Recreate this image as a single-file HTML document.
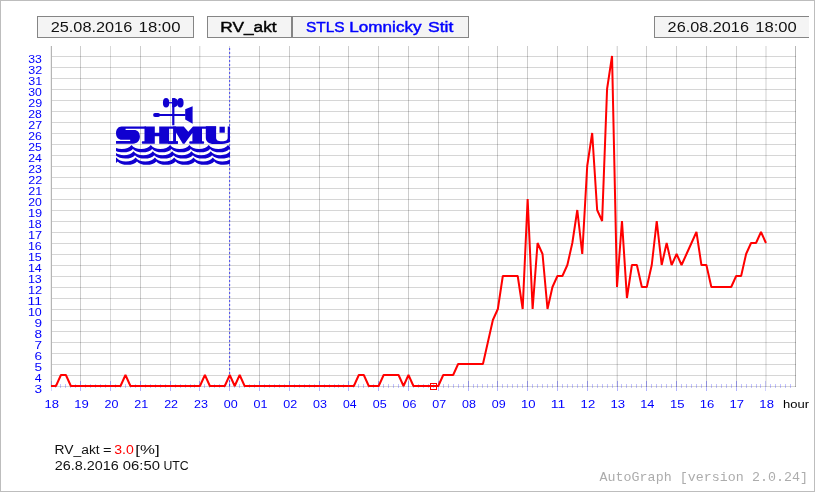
<!DOCTYPE html>
<html><head><meta charset="utf-8"><title>AutoGraph</title>
<style>html,body{margin:0;padding:0;background:#fff;}svg{display:block;will-change:transform;}</style></head>
<body>
<svg width="815" height="492" viewBox="0 0 815 492">
<defs><filter id="nolcd" filterUnits="userSpaceOnUse" x="0" y="0" width="815" height="492"><feOffset dx="0" dy="0"/></filter></defs>
<rect x="0" y="0" width="815" height="492" fill="#fff"/>
<g shape-rendering="crispEdges">
<rect x="0.5" y="0.5" width="814" height="491" fill="none" stroke="#bdbdbd" stroke-width="1"/>
<rect x="52" y="386" width="744" height="1" fill="#000" fill-opacity="0.16"/>
<rect x="52" y="375" width="744" height="1" fill="#000" fill-opacity="0.16"/>
<rect x="52" y="364" width="744" height="1" fill="#000" fill-opacity="0.16"/>
<rect x="52" y="353" width="744" height="1" fill="#000" fill-opacity="0.16"/>
<rect x="52" y="342" width="744" height="1" fill="#000" fill-opacity="0.16"/>
<rect x="52" y="331" width="744" height="1" fill="#000" fill-opacity="0.16"/>
<rect x="52" y="320" width="744" height="1" fill="#000" fill-opacity="0.16"/>
<rect x="52" y="309" width="744" height="1" fill="#000" fill-opacity="0.16"/>
<rect x="52" y="298" width="744" height="1" fill="#000" fill-opacity="0.16"/>
<rect x="52" y="287" width="744" height="1" fill="#000" fill-opacity="0.16"/>
<rect x="52" y="276" width="744" height="1" fill="#000" fill-opacity="0.16"/>
<rect x="52" y="265" width="744" height="1" fill="#000" fill-opacity="0.16"/>
<rect x="52" y="254" width="744" height="1" fill="#000" fill-opacity="0.16"/>
<rect x="52" y="243" width="744" height="1" fill="#000" fill-opacity="0.16"/>
<rect x="52" y="232" width="744" height="1" fill="#000" fill-opacity="0.16"/>
<rect x="52" y="221" width="744" height="1" fill="#000" fill-opacity="0.16"/>
<rect x="52" y="210" width="744" height="1" fill="#000" fill-opacity="0.16"/>
<rect x="52" y="199" width="744" height="1" fill="#000" fill-opacity="0.16"/>
<rect x="52" y="188" width="744" height="1" fill="#000" fill-opacity="0.16"/>
<rect x="52" y="177" width="744" height="1" fill="#000" fill-opacity="0.16"/>
<rect x="52" y="166" width="744" height="1" fill="#000" fill-opacity="0.16"/>
<rect x="52" y="155" width="744" height="1" fill="#000" fill-opacity="0.16"/>
<rect x="52" y="144" width="744" height="1" fill="#000" fill-opacity="0.16"/>
<rect x="52" y="133" width="744" height="1" fill="#000" fill-opacity="0.16"/>
<rect x="52" y="122" width="744" height="1" fill="#000" fill-opacity="0.16"/>
<rect x="52" y="111" width="744" height="1" fill="#000" fill-opacity="0.16"/>
<rect x="52" y="100" width="744" height="1" fill="#000" fill-opacity="0.16"/>
<rect x="52" y="89" width="744" height="1" fill="#000" fill-opacity="0.16"/>
<rect x="52" y="78" width="744" height="1" fill="#000" fill-opacity="0.16"/>
<rect x="52" y="67" width="744" height="1" fill="#000" fill-opacity="0.16"/>
<rect x="52" y="56" width="744" height="1" fill="#000" fill-opacity="0.16"/>
<rect x="80" y="46" width="1" height="341" fill="#000" fill-opacity="0.195"/>
<rect x="110" y="46" width="1" height="341" fill="#000" fill-opacity="0.15"/>
<rect x="140" y="46" width="1" height="341" fill="#000" fill-opacity="0.195"/>
<rect x="170" y="46" width="1" height="341" fill="#000" fill-opacity="0.16"/>
<rect x="199" y="46" width="1" height="341" fill="#000" fill-opacity="0.13"/>
<rect x="200" y="46" width="1" height="341" fill="#000" fill-opacity="0.05"/>
<rect x="229" y="46" width="1" height="341" fill="#000" fill-opacity="0.17"/>
<rect x="259" y="46" width="1" height="341" fill="#000" fill-opacity="0.195"/>
<rect x="289" y="46" width="1" height="341" fill="#000" fill-opacity="0.195"/>
<rect x="319" y="46" width="1" height="341" fill="#000" fill-opacity="0.195"/>
<rect x="348" y="46" width="1" height="341" fill="#000" fill-opacity="0.195"/>
<rect x="378" y="46" width="1" height="341" fill="#000" fill-opacity="0.195"/>
<rect x="408" y="46" width="1" height="341" fill="#000" fill-opacity="0.195"/>
<rect x="438" y="46" width="1" height="341" fill="#000" fill-opacity="0.195"/>
<rect x="468" y="46" width="1" height="341" fill="#000" fill-opacity="0.195"/>
<rect x="497" y="46" width="1" height="341" fill="#000" fill-opacity="0.195"/>
<rect x="527" y="46" width="1" height="341" fill="#000" fill-opacity="0.195"/>
<rect x="557" y="46" width="1" height="341" fill="#000" fill-opacity="0.195"/>
<rect x="587" y="46" width="1" height="341" fill="#000" fill-opacity="0.195"/>
<rect x="616" y="46" width="1" height="341" fill="#000" fill-opacity="0.06"/>
<rect x="617" y="46" width="1" height="341" fill="#000" fill-opacity="0.15"/>
<rect x="646" y="46" width="1" height="341" fill="#000" fill-opacity="0.195"/>
<rect x="676" y="46" width="1" height="341" fill="#000" fill-opacity="0.195"/>
<rect x="706" y="46" width="1" height="341" fill="#000" fill-opacity="0.195"/>
<rect x="736" y="46" width="1" height="341" fill="#000" fill-opacity="0.195"/>
<rect x="765" y="46" width="2" height="341" fill="#000" fill-opacity="0.09"/>
<rect x="795" y="46" width="1" height="341" fill="#000" fill-opacity="0.28"/>
<rect x="51" y="46" width="1" height="341" fill="#000" fill-opacity="0.29"/>
<rect x="50" y="46" width="1" height="341" fill="#000" fill-opacity="0.06"/>
<rect x="229" y="48" width="1" height="2" fill="#5c5ce8"/>
<rect x="230" y="48" width="1" height="2" fill="#00f" fill-opacity="0.1"/>
<rect x="229" y="52" width="1" height="2" fill="#5c5ce8"/>
<rect x="230" y="52" width="1" height="2" fill="#00f" fill-opacity="0.1"/>
<rect x="229" y="56" width="1" height="2" fill="#5c5ce8"/>
<rect x="230" y="56" width="1" height="2" fill="#00f" fill-opacity="0.1"/>
<rect x="229" y="60" width="1" height="2" fill="#5c5ce8"/>
<rect x="230" y="60" width="1" height="2" fill="#00f" fill-opacity="0.1"/>
<rect x="229" y="64" width="1" height="2" fill="#5c5ce8"/>
<rect x="230" y="64" width="1" height="2" fill="#00f" fill-opacity="0.1"/>
<rect x="229" y="68" width="1" height="2" fill="#5c5ce8"/>
<rect x="230" y="68" width="1" height="2" fill="#00f" fill-opacity="0.1"/>
<rect x="229" y="72" width="1" height="2" fill="#5c5ce8"/>
<rect x="230" y="72" width="1" height="2" fill="#00f" fill-opacity="0.1"/>
<rect x="229" y="76" width="1" height="2" fill="#5c5ce8"/>
<rect x="230" y="76" width="1" height="2" fill="#00f" fill-opacity="0.1"/>
<rect x="229" y="80" width="1" height="2" fill="#5c5ce8"/>
<rect x="230" y="80" width="1" height="2" fill="#00f" fill-opacity="0.1"/>
<rect x="229" y="84" width="1" height="2" fill="#5c5ce8"/>
<rect x="230" y="84" width="1" height="2" fill="#00f" fill-opacity="0.1"/>
<rect x="229" y="88" width="1" height="2" fill="#5c5ce8"/>
<rect x="230" y="88" width="1" height="2" fill="#00f" fill-opacity="0.1"/>
<rect x="229" y="92" width="1" height="2" fill="#5c5ce8"/>
<rect x="230" y="92" width="1" height="2" fill="#00f" fill-opacity="0.1"/>
<rect x="229" y="96" width="1" height="2" fill="#5c5ce8"/>
<rect x="230" y="96" width="1" height="2" fill="#00f" fill-opacity="0.1"/>
<rect x="229" y="100" width="1" height="2" fill="#5c5ce8"/>
<rect x="230" y="100" width="1" height="2" fill="#00f" fill-opacity="0.1"/>
<rect x="229" y="104" width="1" height="2" fill="#5c5ce8"/>
<rect x="230" y="104" width="1" height="2" fill="#00f" fill-opacity="0.1"/>
<rect x="229" y="108" width="1" height="2" fill="#5c5ce8"/>
<rect x="230" y="108" width="1" height="2" fill="#00f" fill-opacity="0.1"/>
<rect x="229" y="112" width="1" height="2" fill="#5c5ce8"/>
<rect x="230" y="112" width="1" height="2" fill="#00f" fill-opacity="0.1"/>
<rect x="229" y="116" width="1" height="2" fill="#5c5ce8"/>
<rect x="230" y="116" width="1" height="2" fill="#00f" fill-opacity="0.1"/>
<rect x="229" y="120" width="1" height="2" fill="#5c5ce8"/>
<rect x="230" y="120" width="1" height="2" fill="#00f" fill-opacity="0.1"/>
<rect x="229" y="124" width="1" height="2" fill="#5c5ce8"/>
<rect x="230" y="124" width="1" height="2" fill="#00f" fill-opacity="0.1"/>
<rect x="229" y="128" width="1" height="2" fill="#5c5ce8"/>
<rect x="230" y="128" width="1" height="2" fill="#00f" fill-opacity="0.1"/>
<rect x="229" y="132" width="1" height="2" fill="#5c5ce8"/>
<rect x="230" y="132" width="1" height="2" fill="#00f" fill-opacity="0.1"/>
<rect x="229" y="136" width="1" height="2" fill="#5c5ce8"/>
<rect x="230" y="136" width="1" height="2" fill="#00f" fill-opacity="0.1"/>
<rect x="229" y="140" width="1" height="2" fill="#5c5ce8"/>
<rect x="230" y="140" width="1" height="2" fill="#00f" fill-opacity="0.1"/>
<rect x="229" y="144" width="1" height="2" fill="#5c5ce8"/>
<rect x="230" y="144" width="1" height="2" fill="#00f" fill-opacity="0.1"/>
<rect x="229" y="148" width="1" height="2" fill="#5c5ce8"/>
<rect x="230" y="148" width="1" height="2" fill="#00f" fill-opacity="0.1"/>
<rect x="229" y="152" width="1" height="2" fill="#5c5ce8"/>
<rect x="230" y="152" width="1" height="2" fill="#00f" fill-opacity="0.1"/>
<rect x="229" y="156" width="1" height="2" fill="#5c5ce8"/>
<rect x="230" y="156" width="1" height="2" fill="#00f" fill-opacity="0.1"/>
<rect x="229" y="160" width="1" height="2" fill="#5c5ce8"/>
<rect x="230" y="160" width="1" height="2" fill="#00f" fill-opacity="0.1"/>
<rect x="229" y="164" width="1" height="2" fill="#5c5ce8"/>
<rect x="230" y="164" width="1" height="2" fill="#00f" fill-opacity="0.1"/>
<rect x="229" y="168" width="1" height="2" fill="#5c5ce8"/>
<rect x="230" y="168" width="1" height="2" fill="#00f" fill-opacity="0.1"/>
<rect x="229" y="172" width="1" height="2" fill="#5c5ce8"/>
<rect x="230" y="172" width="1" height="2" fill="#00f" fill-opacity="0.1"/>
<rect x="229" y="176" width="1" height="2" fill="#5c5ce8"/>
<rect x="230" y="176" width="1" height="2" fill="#00f" fill-opacity="0.1"/>
<rect x="229" y="180" width="1" height="2" fill="#5c5ce8"/>
<rect x="230" y="180" width="1" height="2" fill="#00f" fill-opacity="0.1"/>
<rect x="229" y="184" width="1" height="2" fill="#5c5ce8"/>
<rect x="230" y="184" width="1" height="2" fill="#00f" fill-opacity="0.1"/>
<rect x="229" y="188" width="1" height="2" fill="#5c5ce8"/>
<rect x="230" y="188" width="1" height="2" fill="#00f" fill-opacity="0.1"/>
<rect x="229" y="192" width="1" height="2" fill="#5c5ce8"/>
<rect x="230" y="192" width="1" height="2" fill="#00f" fill-opacity="0.1"/>
<rect x="229" y="196" width="1" height="2" fill="#5c5ce8"/>
<rect x="230" y="196" width="1" height="2" fill="#00f" fill-opacity="0.1"/>
<rect x="229" y="200" width="1" height="2" fill="#5c5ce8"/>
<rect x="230" y="200" width="1" height="2" fill="#00f" fill-opacity="0.1"/>
<rect x="229" y="204" width="1" height="2" fill="#5c5ce8"/>
<rect x="230" y="204" width="1" height="2" fill="#00f" fill-opacity="0.1"/>
<rect x="229" y="208" width="1" height="2" fill="#5c5ce8"/>
<rect x="230" y="208" width="1" height="2" fill="#00f" fill-opacity="0.1"/>
<rect x="229" y="212" width="1" height="2" fill="#5c5ce8"/>
<rect x="230" y="212" width="1" height="2" fill="#00f" fill-opacity="0.1"/>
<rect x="229" y="216" width="1" height="2" fill="#5c5ce8"/>
<rect x="230" y="216" width="1" height="2" fill="#00f" fill-opacity="0.1"/>
<rect x="229" y="220" width="1" height="2" fill="#5c5ce8"/>
<rect x="230" y="220" width="1" height="2" fill="#00f" fill-opacity="0.1"/>
<rect x="229" y="224" width="1" height="2" fill="#5c5ce8"/>
<rect x="230" y="224" width="1" height="2" fill="#00f" fill-opacity="0.1"/>
<rect x="229" y="228" width="1" height="2" fill="#5c5ce8"/>
<rect x="230" y="228" width="1" height="2" fill="#00f" fill-opacity="0.1"/>
<rect x="229" y="232" width="1" height="2" fill="#5c5ce8"/>
<rect x="230" y="232" width="1" height="2" fill="#00f" fill-opacity="0.1"/>
<rect x="229" y="236" width="1" height="2" fill="#5c5ce8"/>
<rect x="230" y="236" width="1" height="2" fill="#00f" fill-opacity="0.1"/>
<rect x="229" y="240" width="1" height="2" fill="#5c5ce8"/>
<rect x="230" y="240" width="1" height="2" fill="#00f" fill-opacity="0.1"/>
<rect x="229" y="244" width="1" height="2" fill="#5c5ce8"/>
<rect x="230" y="244" width="1" height="2" fill="#00f" fill-opacity="0.1"/>
<rect x="229" y="248" width="1" height="2" fill="#5c5ce8"/>
<rect x="230" y="248" width="1" height="2" fill="#00f" fill-opacity="0.1"/>
<rect x="229" y="252" width="1" height="2" fill="#5c5ce8"/>
<rect x="230" y="252" width="1" height="2" fill="#00f" fill-opacity="0.1"/>
<rect x="229" y="256" width="1" height="2" fill="#5c5ce8"/>
<rect x="230" y="256" width="1" height="2" fill="#00f" fill-opacity="0.1"/>
<rect x="229" y="260" width="1" height="2" fill="#5c5ce8"/>
<rect x="230" y="260" width="1" height="2" fill="#00f" fill-opacity="0.1"/>
<rect x="229" y="264" width="1" height="2" fill="#5c5ce8"/>
<rect x="230" y="264" width="1" height="2" fill="#00f" fill-opacity="0.1"/>
<rect x="229" y="268" width="1" height="2" fill="#5c5ce8"/>
<rect x="230" y="268" width="1" height="2" fill="#00f" fill-opacity="0.1"/>
<rect x="229" y="272" width="1" height="2" fill="#5c5ce8"/>
<rect x="230" y="272" width="1" height="2" fill="#00f" fill-opacity="0.1"/>
<rect x="229" y="276" width="1" height="2" fill="#5c5ce8"/>
<rect x="230" y="276" width="1" height="2" fill="#00f" fill-opacity="0.1"/>
<rect x="229" y="280" width="1" height="2" fill="#5c5ce8"/>
<rect x="230" y="280" width="1" height="2" fill="#00f" fill-opacity="0.1"/>
<rect x="229" y="284" width="1" height="2" fill="#5c5ce8"/>
<rect x="230" y="284" width="1" height="2" fill="#00f" fill-opacity="0.1"/>
<rect x="229" y="288" width="1" height="2" fill="#5c5ce8"/>
<rect x="230" y="288" width="1" height="2" fill="#00f" fill-opacity="0.1"/>
<rect x="229" y="292" width="1" height="2" fill="#5c5ce8"/>
<rect x="230" y="292" width="1" height="2" fill="#00f" fill-opacity="0.1"/>
<rect x="229" y="296" width="1" height="2" fill="#5c5ce8"/>
<rect x="230" y="296" width="1" height="2" fill="#00f" fill-opacity="0.1"/>
<rect x="229" y="300" width="1" height="2" fill="#5c5ce8"/>
<rect x="230" y="300" width="1" height="2" fill="#00f" fill-opacity="0.1"/>
<rect x="229" y="304" width="1" height="2" fill="#5c5ce8"/>
<rect x="230" y="304" width="1" height="2" fill="#00f" fill-opacity="0.1"/>
<rect x="229" y="308" width="1" height="2" fill="#5c5ce8"/>
<rect x="230" y="308" width="1" height="2" fill="#00f" fill-opacity="0.1"/>
<rect x="229" y="312" width="1" height="2" fill="#5c5ce8"/>
<rect x="230" y="312" width="1" height="2" fill="#00f" fill-opacity="0.1"/>
<rect x="229" y="316" width="1" height="2" fill="#5c5ce8"/>
<rect x="230" y="316" width="1" height="2" fill="#00f" fill-opacity="0.1"/>
<rect x="229" y="320" width="1" height="2" fill="#5c5ce8"/>
<rect x="230" y="320" width="1" height="2" fill="#00f" fill-opacity="0.1"/>
<rect x="229" y="324" width="1" height="2" fill="#5c5ce8"/>
<rect x="230" y="324" width="1" height="2" fill="#00f" fill-opacity="0.1"/>
<rect x="229" y="328" width="1" height="2" fill="#5c5ce8"/>
<rect x="230" y="328" width="1" height="2" fill="#00f" fill-opacity="0.1"/>
<rect x="229" y="332" width="1" height="2" fill="#5c5ce8"/>
<rect x="230" y="332" width="1" height="2" fill="#00f" fill-opacity="0.1"/>
<rect x="229" y="336" width="1" height="2" fill="#5c5ce8"/>
<rect x="230" y="336" width="1" height="2" fill="#00f" fill-opacity="0.1"/>
<rect x="229" y="340" width="1" height="2" fill="#5c5ce8"/>
<rect x="230" y="340" width="1" height="2" fill="#00f" fill-opacity="0.1"/>
<rect x="229" y="344" width="1" height="2" fill="#5c5ce8"/>
<rect x="230" y="344" width="1" height="2" fill="#00f" fill-opacity="0.1"/>
<rect x="229" y="348" width="1" height="2" fill="#5c5ce8"/>
<rect x="230" y="348" width="1" height="2" fill="#00f" fill-opacity="0.1"/>
<rect x="229" y="352" width="1" height="2" fill="#5c5ce8"/>
<rect x="230" y="352" width="1" height="2" fill="#00f" fill-opacity="0.1"/>
<rect x="229" y="356" width="1" height="2" fill="#5c5ce8"/>
<rect x="230" y="356" width="1" height="2" fill="#00f" fill-opacity="0.1"/>
<rect x="229" y="360" width="1" height="2" fill="#5c5ce8"/>
<rect x="230" y="360" width="1" height="2" fill="#00f" fill-opacity="0.1"/>
<rect x="229" y="364" width="1" height="2" fill="#5c5ce8"/>
<rect x="230" y="364" width="1" height="2" fill="#00f" fill-opacity="0.1"/>
<rect x="229" y="368" width="1" height="2" fill="#5c5ce8"/>
<rect x="230" y="368" width="1" height="2" fill="#00f" fill-opacity="0.1"/>
<rect x="229" y="372" width="1" height="2" fill="#5c5ce8"/>
<rect x="230" y="372" width="1" height="2" fill="#00f" fill-opacity="0.1"/>
<rect x="229" y="376" width="1" height="2" fill="#5c5ce8"/>
<rect x="230" y="376" width="1" height="2" fill="#00f" fill-opacity="0.1"/>
<rect x="229" y="380" width="1" height="2" fill="#5c5ce8"/>
<rect x="230" y="380" width="1" height="2" fill="#00f" fill-opacity="0.1"/>
<rect x="229" y="384" width="1" height="2" fill="#5c5ce8"/>
<rect x="230" y="384" width="1" height="2" fill="#00f" fill-opacity="0.1"/>
</g>
<g shape-rendering="crispEdges">
<rect x="51" y="381" width="1" height="10" fill="#00f" fill-opacity="0.18"/>
<rect x="80" y="381" width="1" height="10" fill="#00f" fill-opacity="0.3"/>
<rect x="110" y="381" width="1" height="10" fill="#00f" fill-opacity="0.3"/>
<rect x="140" y="381" width="1" height="10" fill="#00f" fill-opacity="0.3"/>
<rect x="170" y="381" width="1" height="10" fill="#00f" fill-opacity="0.3"/>
<rect x="199" y="381" width="1" height="10" fill="#00f" fill-opacity="0.3"/>
<rect x="229" y="381" width="1" height="10" fill="#00f" fill-opacity="0.3"/>
<rect x="259" y="381" width="1" height="10" fill="#00f" fill-opacity="0.3"/>
<rect x="289" y="381" width="1" height="10" fill="#00f" fill-opacity="0.3"/>
<rect x="319" y="381" width="1" height="10" fill="#00f" fill-opacity="0.3"/>
<rect x="348" y="381" width="1" height="10" fill="#00f" fill-opacity="0.3"/>
<rect x="378" y="381" width="1" height="10" fill="#00f" fill-opacity="0.3"/>
<rect x="408" y="381" width="1" height="10" fill="#00f" fill-opacity="0.3"/>
<rect x="438" y="381" width="1" height="10" fill="#00f" fill-opacity="0.3"/>
<rect x="468" y="381" width="1" height="10" fill="#00f" fill-opacity="0.3"/>
<rect x="497" y="381" width="1" height="10" fill="#00f" fill-opacity="0.3"/>
<rect x="527" y="381" width="1" height="10" fill="#00f" fill-opacity="0.3"/>
<rect x="557" y="381" width="1" height="10" fill="#00f" fill-opacity="0.3"/>
<rect x="587" y="381" width="1" height="10" fill="#00f" fill-opacity="0.3"/>
<rect x="617" y="381" width="1" height="10" fill="#00f" fill-opacity="0.3"/>
<rect x="646" y="381" width="1" height="10" fill="#00f" fill-opacity="0.3"/>
<rect x="676" y="381" width="1" height="10" fill="#00f" fill-opacity="0.3"/>
<rect x="706" y="381" width="1" height="10" fill="#00f" fill-opacity="0.3"/>
<rect x="736" y="381" width="1" height="10" fill="#00f" fill-opacity="0.3"/>
<rect x="765" y="381" width="1" height="10" fill="#00f" fill-opacity="0.18"/>
<rect x="55" y="384" width="1" height="4" fill="#00f" fill-opacity="0.24"/>
<rect x="60" y="384" width="1" height="4" fill="#00f" fill-opacity="0.24"/>
<rect x="65" y="384" width="1" height="4" fill="#00f" fill-opacity="0.24"/>
<rect x="70" y="384" width="1" height="4" fill="#00f" fill-opacity="0.24"/>
<rect x="75" y="384" width="1" height="4" fill="#00f" fill-opacity="0.24"/>
<rect x="85" y="384" width="1" height="4" fill="#00f" fill-opacity="0.24"/>
<rect x="90" y="384" width="1" height="4" fill="#00f" fill-opacity="0.24"/>
<rect x="95" y="384" width="1" height="4" fill="#00f" fill-opacity="0.24"/>
<rect x="100" y="384" width="1" height="4" fill="#00f" fill-opacity="0.24"/>
<rect x="105" y="384" width="1" height="4" fill="#00f" fill-opacity="0.24"/>
<rect x="115" y="384" width="1" height="4" fill="#00f" fill-opacity="0.24"/>
<rect x="120" y="384" width="1" height="4" fill="#00f" fill-opacity="0.24"/>
<rect x="125" y="384" width="1" height="4" fill="#00f" fill-opacity="0.24"/>
<rect x="130" y="384" width="1" height="4" fill="#00f" fill-opacity="0.24"/>
<rect x="135" y="384" width="1" height="4" fill="#00f" fill-opacity="0.24"/>
<rect x="145" y="384" width="1" height="4" fill="#00f" fill-opacity="0.24"/>
<rect x="150" y="384" width="1" height="4" fill="#00f" fill-opacity="0.24"/>
<rect x="155" y="384" width="1" height="4" fill="#00f" fill-opacity="0.24"/>
<rect x="160" y="384" width="1" height="4" fill="#00f" fill-opacity="0.24"/>
<rect x="165" y="384" width="1" height="4" fill="#00f" fill-opacity="0.24"/>
<rect x="175" y="384" width="1" height="4" fill="#00f" fill-opacity="0.24"/>
<rect x="180" y="384" width="1" height="4" fill="#00f" fill-opacity="0.24"/>
<rect x="185" y="384" width="1" height="4" fill="#00f" fill-opacity="0.24"/>
<rect x="190" y="384" width="1" height="4" fill="#00f" fill-opacity="0.24"/>
<rect x="194" y="384" width="1" height="4" fill="#00f" fill-opacity="0.24"/>
<rect x="204" y="384" width="1" height="4" fill="#00f" fill-opacity="0.24"/>
<rect x="209" y="384" width="1" height="4" fill="#00f" fill-opacity="0.24"/>
<rect x="214" y="384" width="1" height="4" fill="#00f" fill-opacity="0.24"/>
<rect x="219" y="384" width="1" height="4" fill="#00f" fill-opacity="0.24"/>
<rect x="224" y="384" width="1" height="4" fill="#00f" fill-opacity="0.24"/>
<rect x="234" y="384" width="1" height="4" fill="#00f" fill-opacity="0.24"/>
<rect x="239" y="384" width="1" height="4" fill="#00f" fill-opacity="0.24"/>
<rect x="244" y="384" width="1" height="4" fill="#00f" fill-opacity="0.24"/>
<rect x="249" y="384" width="1" height="4" fill="#00f" fill-opacity="0.24"/>
<rect x="254" y="384" width="1" height="4" fill="#00f" fill-opacity="0.24"/>
<rect x="264" y="384" width="1" height="4" fill="#00f" fill-opacity="0.24"/>
<rect x="269" y="384" width="1" height="4" fill="#00f" fill-opacity="0.24"/>
<rect x="274" y="384" width="1" height="4" fill="#00f" fill-opacity="0.24"/>
<rect x="279" y="384" width="1" height="4" fill="#00f" fill-opacity="0.24"/>
<rect x="284" y="384" width="1" height="4" fill="#00f" fill-opacity="0.24"/>
<rect x="294" y="384" width="1" height="4" fill="#00f" fill-opacity="0.24"/>
<rect x="299" y="384" width="1" height="4" fill="#00f" fill-opacity="0.24"/>
<rect x="304" y="384" width="1" height="4" fill="#00f" fill-opacity="0.24"/>
<rect x="309" y="384" width="1" height="4" fill="#00f" fill-opacity="0.24"/>
<rect x="314" y="384" width="1" height="4" fill="#00f" fill-opacity="0.24"/>
<rect x="324" y="384" width="1" height="4" fill="#00f" fill-opacity="0.24"/>
<rect x="329" y="384" width="1" height="4" fill="#00f" fill-opacity="0.24"/>
<rect x="334" y="384" width="1" height="4" fill="#00f" fill-opacity="0.24"/>
<rect x="338" y="384" width="1" height="4" fill="#00f" fill-opacity="0.24"/>
<rect x="343" y="384" width="1" height="4" fill="#00f" fill-opacity="0.24"/>
<rect x="353" y="384" width="1" height="4" fill="#00f" fill-opacity="0.24"/>
<rect x="358" y="384" width="1" height="4" fill="#00f" fill-opacity="0.24"/>
<rect x="363" y="384" width="1" height="4" fill="#00f" fill-opacity="0.24"/>
<rect x="368" y="384" width="1" height="4" fill="#00f" fill-opacity="0.24"/>
<rect x="373" y="384" width="1" height="4" fill="#00f" fill-opacity="0.24"/>
<rect x="383" y="384" width="1" height="4" fill="#00f" fill-opacity="0.24"/>
<rect x="388" y="384" width="1" height="4" fill="#00f" fill-opacity="0.24"/>
<rect x="393" y="384" width="1" height="4" fill="#00f" fill-opacity="0.24"/>
<rect x="398" y="384" width="1" height="4" fill="#00f" fill-opacity="0.24"/>
<rect x="403" y="384" width="1" height="4" fill="#00f" fill-opacity="0.24"/>
<rect x="413" y="384" width="1" height="4" fill="#00f" fill-opacity="0.24"/>
<rect x="418" y="384" width="1" height="4" fill="#00f" fill-opacity="0.24"/>
<rect x="423" y="384" width="1" height="4" fill="#00f" fill-opacity="0.24"/>
<rect x="428" y="384" width="1" height="4" fill="#00f" fill-opacity="0.24"/>
<rect x="433" y="384" width="1" height="4" fill="#00f" fill-opacity="0.24"/>
<rect x="443" y="384" width="1" height="4" fill="#00f" fill-opacity="0.24"/>
<rect x="448" y="384" width="1" height="4" fill="#00f" fill-opacity="0.24"/>
<rect x="453" y="384" width="1" height="4" fill="#00f" fill-opacity="0.24"/>
<rect x="458" y="384" width="1" height="4" fill="#00f" fill-opacity="0.24"/>
<rect x="463" y="384" width="1" height="4" fill="#00f" fill-opacity="0.24"/>
<rect x="473" y="384" width="1" height="4" fill="#00f" fill-opacity="0.24"/>
<rect x="477" y="384" width="1" height="4" fill="#00f" fill-opacity="0.24"/>
<rect x="482" y="384" width="1" height="4" fill="#00f" fill-opacity="0.24"/>
<rect x="487" y="384" width="1" height="4" fill="#00f" fill-opacity="0.24"/>
<rect x="492" y="384" width="1" height="4" fill="#00f" fill-opacity="0.24"/>
<rect x="502" y="384" width="1" height="4" fill="#00f" fill-opacity="0.24"/>
<rect x="507" y="384" width="1" height="4" fill="#00f" fill-opacity="0.24"/>
<rect x="512" y="384" width="1" height="4" fill="#00f" fill-opacity="0.24"/>
<rect x="517" y="384" width="1" height="4" fill="#00f" fill-opacity="0.24"/>
<rect x="522" y="384" width="1" height="4" fill="#00f" fill-opacity="0.24"/>
<rect x="532" y="384" width="1" height="4" fill="#00f" fill-opacity="0.24"/>
<rect x="537" y="384" width="1" height="4" fill="#00f" fill-opacity="0.24"/>
<rect x="542" y="384" width="1" height="4" fill="#00f" fill-opacity="0.24"/>
<rect x="547" y="384" width="1" height="4" fill="#00f" fill-opacity="0.24"/>
<rect x="552" y="384" width="1" height="4" fill="#00f" fill-opacity="0.24"/>
<rect x="562" y="384" width="1" height="4" fill="#00f" fill-opacity="0.24"/>
<rect x="567" y="384" width="1" height="4" fill="#00f" fill-opacity="0.24"/>
<rect x="572" y="384" width="1" height="4" fill="#00f" fill-opacity="0.24"/>
<rect x="577" y="384" width="1" height="4" fill="#00f" fill-opacity="0.24"/>
<rect x="582" y="384" width="1" height="4" fill="#00f" fill-opacity="0.24"/>
<rect x="592" y="384" width="1" height="4" fill="#00f" fill-opacity="0.24"/>
<rect x="597" y="384" width="1" height="4" fill="#00f" fill-opacity="0.24"/>
<rect x="602" y="384" width="1" height="4" fill="#00f" fill-opacity="0.24"/>
<rect x="607" y="384" width="1" height="4" fill="#00f" fill-opacity="0.24"/>
<rect x="612" y="384" width="1" height="4" fill="#00f" fill-opacity="0.24"/>
<rect x="621" y="384" width="1" height="4" fill="#00f" fill-opacity="0.24"/>
<rect x="626" y="384" width="1" height="4" fill="#00f" fill-opacity="0.24"/>
<rect x="631" y="384" width="1" height="4" fill="#00f" fill-opacity="0.24"/>
<rect x="636" y="384" width="1" height="4" fill="#00f" fill-opacity="0.24"/>
<rect x="641" y="384" width="1" height="4" fill="#00f" fill-opacity="0.24"/>
<rect x="651" y="384" width="1" height="4" fill="#00f" fill-opacity="0.24"/>
<rect x="656" y="384" width="1" height="4" fill="#00f" fill-opacity="0.24"/>
<rect x="661" y="384" width="1" height="4" fill="#00f" fill-opacity="0.24"/>
<rect x="666" y="384" width="1" height="4" fill="#00f" fill-opacity="0.24"/>
<rect x="671" y="384" width="1" height="4" fill="#00f" fill-opacity="0.24"/>
<rect x="681" y="384" width="1" height="4" fill="#00f" fill-opacity="0.24"/>
<rect x="686" y="384" width="1" height="4" fill="#00f" fill-opacity="0.24"/>
<rect x="691" y="384" width="1" height="4" fill="#00f" fill-opacity="0.24"/>
<rect x="696" y="384" width="1" height="4" fill="#00f" fill-opacity="0.24"/>
<rect x="701" y="384" width="1" height="4" fill="#00f" fill-opacity="0.24"/>
<rect x="711" y="384" width="1" height="4" fill="#00f" fill-opacity="0.24"/>
<rect x="716" y="384" width="1" height="4" fill="#00f" fill-opacity="0.24"/>
<rect x="721" y="384" width="1" height="4" fill="#00f" fill-opacity="0.24"/>
<rect x="726" y="384" width="1" height="4" fill="#00f" fill-opacity="0.24"/>
<rect x="731" y="384" width="1" height="4" fill="#00f" fill-opacity="0.24"/>
<rect x="741" y="384" width="1" height="4" fill="#00f" fill-opacity="0.24"/>
<rect x="746" y="384" width="1" height="4" fill="#00f" fill-opacity="0.24"/>
<rect x="751" y="384" width="1" height="4" fill="#00f" fill-opacity="0.24"/>
<rect x="756" y="384" width="1" height="4" fill="#00f" fill-opacity="0.24"/>
<rect x="760" y="384" width="1" height="4" fill="#00f" fill-opacity="0.24"/>
<rect x="770" y="384" width="1" height="4" fill="#00f" fill-opacity="0.24"/>
<rect x="775" y="384" width="1" height="4" fill="#00f" fill-opacity="0.24"/>
<rect x="780" y="384" width="1" height="4" fill="#00f" fill-opacity="0.24"/>
<rect x="785" y="384" width="1" height="4" fill="#00f" fill-opacity="0.24"/>
<rect x="790" y="384" width="1" height="4" fill="#00f" fill-opacity="0.24"/>
</g>
<defs><clipPath id="lc"><rect x="116" y="95" width="114" height="72"/></clipPath></defs>
<g fill="#1000d0" clip-path="url(#lc)">
<rect x="172.2" y="98.5" width="2.2" height="26.8"/>
<ellipse cx="166.1" cy="102.7" rx="3.2" ry="4.7"/>
<ellipse cx="180.4" cy="102.7" rx="3.2" ry="4.7"/>
<path d="M172.2,98 L174.5,98 C179.5,99.5 179.5,105.8 174.5,107.3 L172.2,107.3 Z"/>
<rect x="166" y="102.1" width="14.5" height="1.3"/>
<rect x="155" y="114" width="30.5" height="2"/>
<rect x="153.1" y="113.1" width="7" height="3.8" rx="1.9" ry="1.9"/>
<path d="M185.2,109.2 L192.6,106.2 L192.6,123.7 L185.2,119.6 Z"/>
<path d="M121.5,126.6 H146 V128.8 H125.6 V130 H134 C137.6,130 139.9,132.6 139.9,136.6 C139.9,140.6 137.4,143.7 133,143.7 H116 V141.1 H130.2 V139.8 H122 C118.4,139.8 116,137 116,133.2 C116,129.4 118.4,126.6 121.5,126.6 Z"/>
<path d="M144.5,126.6 H154.8 V132.7 H159.2 V126.6 H176 V128.7 H169.1 V141.3 H178 V143.7 H159.2 V136.3 H154.8 V143.7 H142.6 Q141.8,143.7 141.8,142.5 Q141.8,141.3 142.6,141.3 H144.5 Z"/>
<path d="M173.1,126.6 H183.7 L188.3,131.7 L193,126.6 H216.1 V128.7 H202 V141.3 H203.2 Q204.2,141.3 204.2,142.5 Q204.2,143.7 203.2,143.7 H190.2 Q189.2,143.7 189.2,142.5 Q189.2,141.3 190.2,141.3 H192.4 V132.9 L184.5,143.7 H182.8 L176,132.5 V141.3 H177 Q178,141.3 178,142.5 Q178,143.7 177,143.7 H168 V141.3 H173.1 Z"/>
<path d="M205.8,126.3 H216.1 V137.4 C216.1,140 217.8,141.2 221.9,141.2 C226,141.2 227.7,140 227.7,137.4 V126.6 H232 V137.4 C232,142 228,143.9 221.9,143.9 H214 C208.5,143.9 205.8,141.5 205.8,137.4 Z"/>
<rect x="219.5" y="126.7" width="5.3" height="6"/>
<path d="M92.90,145.05 C94.83,147.78 98.21,148.95 102.55,148.95 C106.89,148.95 110.27,147.78 112.20,145.05 C114.13,147.78 117.51,148.95 121.85,148.95 C126.19,148.95 129.57,147.78 131.50,145.05 C133.43,147.78 136.81,148.95 141.15,148.95 C145.49,148.95 148.87,147.78 150.80,145.05 C152.73,147.78 156.11,148.95 160.45,148.95 C164.79,148.95 168.17,147.78 170.10,145.05 C172.03,147.78 175.41,148.95 179.75,148.95 C184.09,148.95 187.47,147.78 189.40,145.05 C191.33,147.78 194.71,148.95 199.05,148.95 C203.39,148.95 206.77,147.78 208.70,145.05 C210.63,147.78 214.01,148.95 218.35,148.95 C222.69,148.95 226.07,147.78 228.00,145.05 C229.93,147.78 233.31,148.95 237.65,148.95 C241.99,148.95 245.37,147.78 247.30,145.05 L248.70,148.95 C246.77,151.33 243.39,152.35 239.05,152.35 C234.71,152.35 231.33,151.33 229.40,148.95 C227.47,151.33 224.09,152.35 219.75,152.35 C215.41,152.35 212.03,151.33 210.10,148.95 C208.17,151.33 204.79,152.35 200.45,152.35 C196.11,152.35 192.73,151.33 190.80,148.95 C188.87,151.33 185.49,152.35 181.15,152.35 C176.81,152.35 173.43,151.33 171.50,148.95 C169.57,151.33 166.19,152.35 161.85,152.35 C157.51,152.35 154.13,151.33 152.20,148.95 C150.27,151.33 146.89,152.35 142.55,152.35 C138.21,152.35 134.83,151.33 132.90,148.95 C130.97,151.33 127.59,152.35 123.25,152.35 C118.91,152.35 115.53,151.33 113.60,148.95 C111.67,151.33 108.29,152.35 103.95,152.35 C99.61,152.35 96.23,151.33 94.30,148.95 Z"/>
<path d="M94.95,151.27 C96.88,154.00 100.26,155.17 104.60,155.17 C108.94,155.17 112.32,154.00 114.25,151.27 C116.18,154.00 119.56,155.17 123.90,155.17 C128.24,155.17 131.62,154.00 133.55,151.27 C135.48,154.00 138.86,155.17 143.20,155.17 C147.54,155.17 150.92,154.00 152.85,151.27 C154.78,154.00 158.16,155.17 162.50,155.17 C166.84,155.17 170.22,154.00 172.15,151.27 C174.08,154.00 177.46,155.17 181.80,155.17 C186.14,155.17 189.52,154.00 191.45,151.27 C193.38,154.00 196.76,155.17 201.10,155.17 C205.44,155.17 208.82,154.00 210.75,151.27 C212.68,154.00 216.06,155.17 220.40,155.17 C224.74,155.17 228.12,154.00 230.05,151.27 C231.98,154.00 235.36,155.17 239.70,155.17 C244.04,155.17 247.42,154.00 249.35,151.27 L250.75,155.17 C248.82,157.55 245.44,158.57 241.10,158.57 C236.76,158.57 233.38,157.55 231.45,155.17 C229.52,157.55 226.14,158.57 221.80,158.57 C217.46,158.57 214.08,157.55 212.15,155.17 C210.22,157.55 206.84,158.57 202.50,158.57 C198.16,158.57 194.78,157.55 192.85,155.17 C190.92,157.55 187.54,158.57 183.20,158.57 C178.86,158.57 175.48,157.55 173.55,155.17 C171.62,157.55 168.24,158.57 163.90,158.57 C159.56,158.57 156.18,157.55 154.25,155.17 C152.32,157.55 148.94,158.57 144.60,158.57 C140.26,158.57 136.88,157.55 134.95,155.17 C133.02,157.55 129.64,158.57 125.30,158.57 C120.96,158.57 117.58,157.55 115.65,155.17 C113.72,157.55 110.34,158.57 106.00,158.57 C101.66,158.57 98.28,157.55 96.35,155.17 Z"/>
<path d="M97.00,157.49 C98.93,160.22 102.31,161.39 106.65,161.39 C110.99,161.39 114.37,160.22 116.30,157.49 C118.23,160.22 121.61,161.39 125.95,161.39 C130.29,161.39 133.67,160.22 135.60,157.49 C137.53,160.22 140.91,161.39 145.25,161.39 C149.59,161.39 152.97,160.22 154.90,157.49 C156.83,160.22 160.21,161.39 164.55,161.39 C168.89,161.39 172.27,160.22 174.20,157.49 C176.13,160.22 179.51,161.39 183.85,161.39 C188.19,161.39 191.57,160.22 193.50,157.49 C195.43,160.22 198.81,161.39 203.15,161.39 C207.49,161.39 210.87,160.22 212.80,157.49 C214.73,160.22 218.11,161.39 222.45,161.39 C226.79,161.39 230.17,160.22 232.10,157.49 C234.03,160.22 237.41,161.39 241.75,161.39 C246.09,161.39 249.47,160.22 251.40,157.49 L252.80,161.39 C250.87,163.77 247.49,164.79 243.15,164.79 C238.81,164.79 235.43,163.77 233.50,161.39 C231.57,163.77 228.19,164.79 223.85,164.79 C219.51,164.79 216.13,163.77 214.20,161.39 C212.27,163.77 208.89,164.79 204.55,164.79 C200.21,164.79 196.83,163.77 194.90,161.39 C192.97,163.77 189.59,164.79 185.25,164.79 C180.91,164.79 177.53,163.77 175.60,161.39 C173.67,163.77 170.29,164.79 165.95,164.79 C161.61,164.79 158.23,163.77 156.30,161.39 C154.37,163.77 150.99,164.79 146.65,164.79 C142.31,164.79 138.93,163.77 137.00,161.39 C135.07,163.77 131.69,164.79 127.35,164.79 C123.01,164.79 119.63,163.77 117.70,161.39 C115.77,163.77 112.39,164.79 108.05,164.79 C103.71,164.79 100.33,163.77 98.40,161.39 Z"/>
</g>
<polyline points="51.00,386 55.97,386 60.93,375 65.89,375 70.86,386 75.83,386 80.79,386 85.75,386 90.72,386 95.69,386 100.65,386 105.61,386 110.58,386 115.55,386 120.51,386 125.47,375 130.44,386 135.41,386 140.37,386 145.33,386 150.30,386 155.26,386 160.23,386 165.19,386 170.16,386 175.12,386 180.09,386 185.06,386 190.02,386 194.98,386 199.95,386 204.91,375 209.88,386 214.84,386 219.81,386 224.78,386 229.74,375 234.70,386 239.67,375 244.63,386 249.60,386 254.56,386 259.53,386 264.50,386 269.46,386 274.42,386 279.39,386 284.36,386 289.32,386 294.28,386 299.25,386 304.22,386 309.18,386 314.14,386 319.11,386 324.07,386 329.04,386 334.00,386 338.97,386 343.94,386 348.90,386 353.87,386 358.83,375 363.80,375 368.76,386 373.72,386 378.69,386 383.65,375 388.62,375 393.58,375 398.55,375 403.51,386 408.48,375 413.44,386 418.41,386 423.38,386 428.34,386 433.31,386 438.27,386 443.24,375 448.20,375 453.16,375 458.13,364 463.09,364 468.06,364 473.02,364 477.99,364 482.95,364 487.92,342 492.88,320 497.85,309 502.81,276 507.78,276 512.75,276 517.71,276 522.67,309 527.64,199 532.61,309 537.57,243 542.53,254 547.50,309 552.46,287 557.43,276 562.39,276 567.36,265 572.32,243 577.29,210 582.25,254 587.22,166 592.18,133 597.15,210 602.12,221 607.08,89 612.04,56 617.01,287 621.98,221 626.94,298 631.90,265 636.87,265 641.84,287 646.80,287 651.76,265 656.73,221 661.69,265 666.66,243 671.62,265 676.59,254 681.55,265 686.52,254 691.49,243 696.45,232 701.41,265 706.38,265 711.35,287 716.31,287 721.27,287 726.24,287 731.20,287 736.17,276 741.13,276 746.10,254 751.06,243 756.03,243 761.00,232 765.96,243" fill="none" stroke="#f00" stroke-width="2" stroke-linejoin="bevel" stroke-linecap="butt"/>
<rect x="430.5" y="383.5" width="6" height="6" fill="none" stroke="#f00" stroke-width="1" shape-rendering="crispEdges"/>
<g shape-rendering="crispEdges">
<rect x="37.5" y="16.5" width="156" height="21" fill="#f4f4f4" stroke="#858585"/>
<rect x="207.5" y="16.5" width="84" height="21" fill="#f4f4f4" stroke="#858585"/>
<rect x="292.5" y="16.5" width="176" height="21" fill="#f4f4f4" stroke="#858585"/>
<rect x="654" y="17" width="155" height="20" fill="#f4f4f4"/>
<rect x="654" y="16" width="155" height="1" fill="#858585"/>
<rect x="654" y="37" width="155" height="1" fill="#858585"/>
<rect x="654" y="16" width="1" height="22" fill="#858585"/>
</g>
<g font-family="Liberation Sans, sans-serif" filter="url(#nolcd)">
<text x="50.74" y="32" font-size="14" fill="#111111" text-anchor="start" font-weight="normal" textLength="81.47" lengthAdjust="spacingAndGlyphs" >25.08.2016</text>
<text x="138.59" y="32" font-size="14" fill="#111111" text-anchor="start" font-weight="normal" textLength="41.9" lengthAdjust="spacingAndGlyphs" >18:00</text>
<text x="667.64" y="32" font-size="14" fill="#111111" text-anchor="start" font-weight="normal" textLength="81.32" lengthAdjust="spacingAndGlyphs" >26.08.2016</text>
<text x="755.29" y="32" font-size="14" fill="#111111" text-anchor="start" font-weight="normal" textLength="41.54" lengthAdjust="spacingAndGlyphs" >18:00</text>
<text x="220.23" y="32" font-size="14" fill="#000" text-anchor="start" font-weight="normal" textLength="56.37" lengthAdjust="spacingAndGlyphs" stroke="#000" stroke-width="0.42">RV_akt</text>
<text x="305.99" y="32" font-size="14" fill="#0000ff" text-anchor="start" font-weight="normal" textLength="38.67" lengthAdjust="spacingAndGlyphs" stroke="#0000ff" stroke-width="0.42">STLS</text>
<text x="349.33" y="32" font-size="14" fill="#0000ff" text-anchor="start" font-weight="normal" textLength="72.22" lengthAdjust="spacingAndGlyphs" stroke="#0000ff" stroke-width="0.42">Lomnicky</text>
<text x="428.09" y="32" font-size="14" fill="#0000ff" text-anchor="start" font-weight="normal" textLength="25.31" lengthAdjust="spacingAndGlyphs" stroke="#0000ff" stroke-width="0.42">Stit</text>
<text x="783.12" y="408.2" font-size="10.2" fill="#000" text-anchor="start" font-weight="normal" textLength="26.04" lengthAdjust="spacingAndGlyphs" >hour</text>
<text x="54.57" y="454" font-size="12" fill="#111111" text-anchor="start" font-weight="normal" textLength="45.08" lengthAdjust="spacingAndGlyphs" >RV_akt</text>
<text x="103.02" y="454" font-size="12" fill="#111111" text-anchor="start" font-weight="normal" textLength="8.53" lengthAdjust="spacingAndGlyphs" >=</text>
<text x="114.17" y="454" font-size="12" fill="#f00" text-anchor="start" font-weight="normal" textLength="19.56" lengthAdjust="spacingAndGlyphs" >3.0</text>
<text x="135.29" y="454" font-size="12" fill="#111111" text-anchor="start" font-weight="normal" textLength="24.28" lengthAdjust="spacingAndGlyphs" >[%]</text>
<text x="54.83" y="470" font-size="12" fill="#111111" text-anchor="start" font-weight="normal" textLength="63.98" lengthAdjust="spacingAndGlyphs" >26.8.2016</text>
<text x="122.88" y="470" font-size="12" fill="#111111" text-anchor="start" font-weight="normal" textLength="37.09" lengthAdjust="spacingAndGlyphs" >06:50</text>
<text x="163.43" y="470" font-size="12" fill="#111111" text-anchor="start" font-weight="normal" textLength="25.32" lengthAdjust="spacingAndGlyphs" >UTC</text>
<text x="34.5" y="393.4" font-size="10.2" fill="#00f" text-anchor="start" font-weight="normal" textLength="7.56" lengthAdjust="spacingAndGlyphs" >3</text>
<text x="34.83" y="382.4" font-size="10.2" fill="#00f" text-anchor="start" font-weight="normal" textLength="6.9" lengthAdjust="spacingAndGlyphs" >4</text>
<text x="34.5" y="371.4" font-size="10.2" fill="#00f" text-anchor="start" font-weight="normal" textLength="7.56" lengthAdjust="spacingAndGlyphs" >5</text>
<text x="34.5" y="360.4" font-size="10.2" fill="#00f" text-anchor="start" font-weight="normal" textLength="7.56" lengthAdjust="spacingAndGlyphs" >6</text>
<text x="34.5" y="349.4" font-size="10.2" fill="#00f" text-anchor="start" font-weight="normal" textLength="7.56" lengthAdjust="spacingAndGlyphs" >7</text>
<text x="34.5" y="338.4" font-size="10.2" fill="#00f" text-anchor="start" font-weight="normal" textLength="7.56" lengthAdjust="spacingAndGlyphs" >8</text>
<text x="34.5" y="327.4" font-size="10.2" fill="#00f" text-anchor="start" font-weight="normal" textLength="7.56" lengthAdjust="spacingAndGlyphs" >9</text>
<text x="27.92" y="316.4" font-size="10.2" fill="#00f" text-anchor="start" font-weight="normal" textLength="13.91" lengthAdjust="spacingAndGlyphs" >10</text>
<text x="27.6" y="305.4" font-size="10.2" fill="#00f" text-anchor="start" font-weight="normal" textLength="14.55" lengthAdjust="spacingAndGlyphs" >11</text>
<text x="27.91" y="294.4" font-size="10.2" fill="#00f" text-anchor="start" font-weight="normal" textLength="14.22" lengthAdjust="spacingAndGlyphs" >12</text>
<text x="27.92" y="283.4" font-size="10.2" fill="#00f" text-anchor="start" font-weight="normal" textLength="13.91" lengthAdjust="spacingAndGlyphs" >13</text>
<text x="27.92" y="272.4" font-size="10.2" fill="#00f" text-anchor="start" font-weight="normal" textLength="13.91" lengthAdjust="spacingAndGlyphs" >14</text>
<text x="27.92" y="261.4" font-size="10.2" fill="#00f" text-anchor="start" font-weight="normal" textLength="13.91" lengthAdjust="spacingAndGlyphs" >15</text>
<text x="27.92" y="250.4" font-size="10.2" fill="#00f" text-anchor="start" font-weight="normal" textLength="13.91" lengthAdjust="spacingAndGlyphs" >16</text>
<text x="27.91" y="239.4" font-size="10.2" fill="#00f" text-anchor="start" font-weight="normal" textLength="14.22" lengthAdjust="spacingAndGlyphs" >17</text>
<text x="27.92" y="228.4" font-size="10.2" fill="#00f" text-anchor="start" font-weight="normal" textLength="13.91" lengthAdjust="spacingAndGlyphs" >18</text>
<text x="27.91" y="217.4" font-size="10.2" fill="#00f" text-anchor="start" font-weight="normal" textLength="14.22" lengthAdjust="spacingAndGlyphs" >19</text>
<text x="28.21" y="206.4" font-size="10.2" fill="#00f" text-anchor="start" font-weight="normal" textLength="13.62" lengthAdjust="spacingAndGlyphs" >20</text>
<text x="28.2" y="195.4" font-size="10.2" fill="#00f" text-anchor="start" font-weight="normal" textLength="13.91" lengthAdjust="spacingAndGlyphs" >21</text>
<text x="28.2" y="184.4" font-size="10.2" fill="#00f" text-anchor="start" font-weight="normal" textLength="13.91" lengthAdjust="spacingAndGlyphs" >22</text>
<text x="28.21" y="173.4" font-size="10.2" fill="#00f" text-anchor="start" font-weight="normal" textLength="13.62" lengthAdjust="spacingAndGlyphs" >23</text>
<text x="28.21" y="162.4" font-size="10.2" fill="#00f" text-anchor="start" font-weight="normal" textLength="13.62" lengthAdjust="spacingAndGlyphs" >24</text>
<text x="28.21" y="151.4" font-size="10.2" fill="#00f" text-anchor="start" font-weight="normal" textLength="13.62" lengthAdjust="spacingAndGlyphs" >25</text>
<text x="28.21" y="140.4" font-size="10.2" fill="#00f" text-anchor="start" font-weight="normal" textLength="13.62" lengthAdjust="spacingAndGlyphs" >26</text>
<text x="28.2" y="129.4" font-size="10.2" fill="#00f" text-anchor="start" font-weight="normal" textLength="13.91" lengthAdjust="spacingAndGlyphs" >27</text>
<text x="28.21" y="118.4" font-size="10.2" fill="#00f" text-anchor="start" font-weight="normal" textLength="13.62" lengthAdjust="spacingAndGlyphs" >28</text>
<text x="28.2" y="107.4" font-size="10.2" fill="#00f" text-anchor="start" font-weight="normal" textLength="13.91" lengthAdjust="spacingAndGlyphs" >29</text>
<text x="28.21" y="96.4" font-size="10.2" fill="#00f" text-anchor="start" font-weight="normal" textLength="13.62" lengthAdjust="spacingAndGlyphs" >30</text>
<text x="28.2" y="85.4" font-size="10.2" fill="#00f" text-anchor="start" font-weight="normal" textLength="13.91" lengthAdjust="spacingAndGlyphs" >31</text>
<text x="28.2" y="74.4" font-size="10.2" fill="#00f" text-anchor="start" font-weight="normal" textLength="13.91" lengthAdjust="spacingAndGlyphs" >32</text>
<text x="28.21" y="63.4" font-size="10.2" fill="#00f" text-anchor="start" font-weight="normal" textLength="13.62" lengthAdjust="spacingAndGlyphs" >33</text>
<text x="44.41" y="408.2" font-size="10.2" fill="#00f" text-anchor="start" font-weight="normal" textLength="14.56" lengthAdjust="spacingAndGlyphs" >18</text>
<text x="74.2" y="408.2" font-size="10.2" fill="#00f" text-anchor="start" font-weight="normal" textLength="14.56" lengthAdjust="spacingAndGlyphs" >19</text>
<text x="104.59" y="408.2" font-size="10.2" fill="#00f" text-anchor="start" font-weight="normal" textLength="13.94" lengthAdjust="spacingAndGlyphs" >20</text>
<text x="134.38" y="408.2" font-size="10.2" fill="#00f" text-anchor="start" font-weight="normal" textLength="13.94" lengthAdjust="spacingAndGlyphs" >21</text>
<text x="164.17" y="408.2" font-size="10.2" fill="#00f" text-anchor="start" font-weight="normal" textLength="13.94" lengthAdjust="spacingAndGlyphs" >22</text>
<text x="193.96" y="408.2" font-size="10.2" fill="#00f" text-anchor="start" font-weight="normal" textLength="13.94" lengthAdjust="spacingAndGlyphs" >23</text>
<text x="223.75" y="408.2" font-size="10.2" fill="#00f" text-anchor="start" font-weight="normal" textLength="13.94" lengthAdjust="spacingAndGlyphs" >00</text>
<text x="253.54" y="408.2" font-size="10.2" fill="#00f" text-anchor="start" font-weight="normal" textLength="13.94" lengthAdjust="spacingAndGlyphs" >01</text>
<text x="283.33" y="408.2" font-size="10.2" fill="#00f" text-anchor="start" font-weight="normal" textLength="13.94" lengthAdjust="spacingAndGlyphs" >02</text>
<text x="313.12" y="408.2" font-size="10.2" fill="#00f" text-anchor="start" font-weight="normal" textLength="13.94" lengthAdjust="spacingAndGlyphs" >03</text>
<text x="342.92" y="408.2" font-size="10.2" fill="#00f" text-anchor="start" font-weight="normal" textLength="13.65" lengthAdjust="spacingAndGlyphs" >04</text>
<text x="372.7" y="408.2" font-size="10.2" fill="#00f" text-anchor="start" font-weight="normal" textLength="13.94" lengthAdjust="spacingAndGlyphs" >05</text>
<text x="402.49" y="408.2" font-size="10.2" fill="#00f" text-anchor="start" font-weight="normal" textLength="13.94" lengthAdjust="spacingAndGlyphs" >06</text>
<text x="432.28" y="408.2" font-size="10.2" fill="#00f" text-anchor="start" font-weight="normal" textLength="13.94" lengthAdjust="spacingAndGlyphs" >07</text>
<text x="462.07" y="408.2" font-size="10.2" fill="#00f" text-anchor="start" font-weight="normal" textLength="13.94" lengthAdjust="spacingAndGlyphs" >08</text>
<text x="491.86" y="408.2" font-size="10.2" fill="#00f" text-anchor="start" font-weight="normal" textLength="13.94" lengthAdjust="spacingAndGlyphs" >09</text>
<text x="521.05" y="408.2" font-size="10.2" fill="#00f" text-anchor="start" font-weight="normal" textLength="14.56" lengthAdjust="spacingAndGlyphs" >10</text>
<text x="550.84" y="408.2" font-size="10.2" fill="#00f" text-anchor="start" font-weight="normal" textLength="14.56" lengthAdjust="spacingAndGlyphs" >11</text>
<text x="580.63" y="408.2" font-size="10.2" fill="#00f" text-anchor="start" font-weight="normal" textLength="14.56" lengthAdjust="spacingAndGlyphs" >12</text>
<text x="610.42" y="408.2" font-size="10.2" fill="#00f" text-anchor="start" font-weight="normal" textLength="14.56" lengthAdjust="spacingAndGlyphs" >13</text>
<text x="640.24" y="408.2" font-size="10.2" fill="#00f" text-anchor="start" font-weight="normal" textLength="14.25" lengthAdjust="spacingAndGlyphs" >14</text>
<text x="670.0" y="408.2" font-size="10.2" fill="#00f" text-anchor="start" font-weight="normal" textLength="14.56" lengthAdjust="spacingAndGlyphs" >15</text>
<text x="699.79" y="408.2" font-size="10.2" fill="#00f" text-anchor="start" font-weight="normal" textLength="14.56" lengthAdjust="spacingAndGlyphs" >16</text>
<text x="729.58" y="408.2" font-size="10.2" fill="#00f" text-anchor="start" font-weight="normal" textLength="14.56" lengthAdjust="spacingAndGlyphs" >17</text>
<text x="759.37" y="408.2" font-size="10.2" fill="#00f" text-anchor="start" font-weight="normal" textLength="14.56" lengthAdjust="spacingAndGlyphs" >18</text>
</g>
<text filter="url(#nolcd)" x="599.5" y="480.5" font-family="Liberation Mono, monospace" font-size="13.3" fill="#acacac" textLength="208.5" lengthAdjust="spacing">AutoGraph [version 2.0.24]</text>
</svg>
</body></html>
